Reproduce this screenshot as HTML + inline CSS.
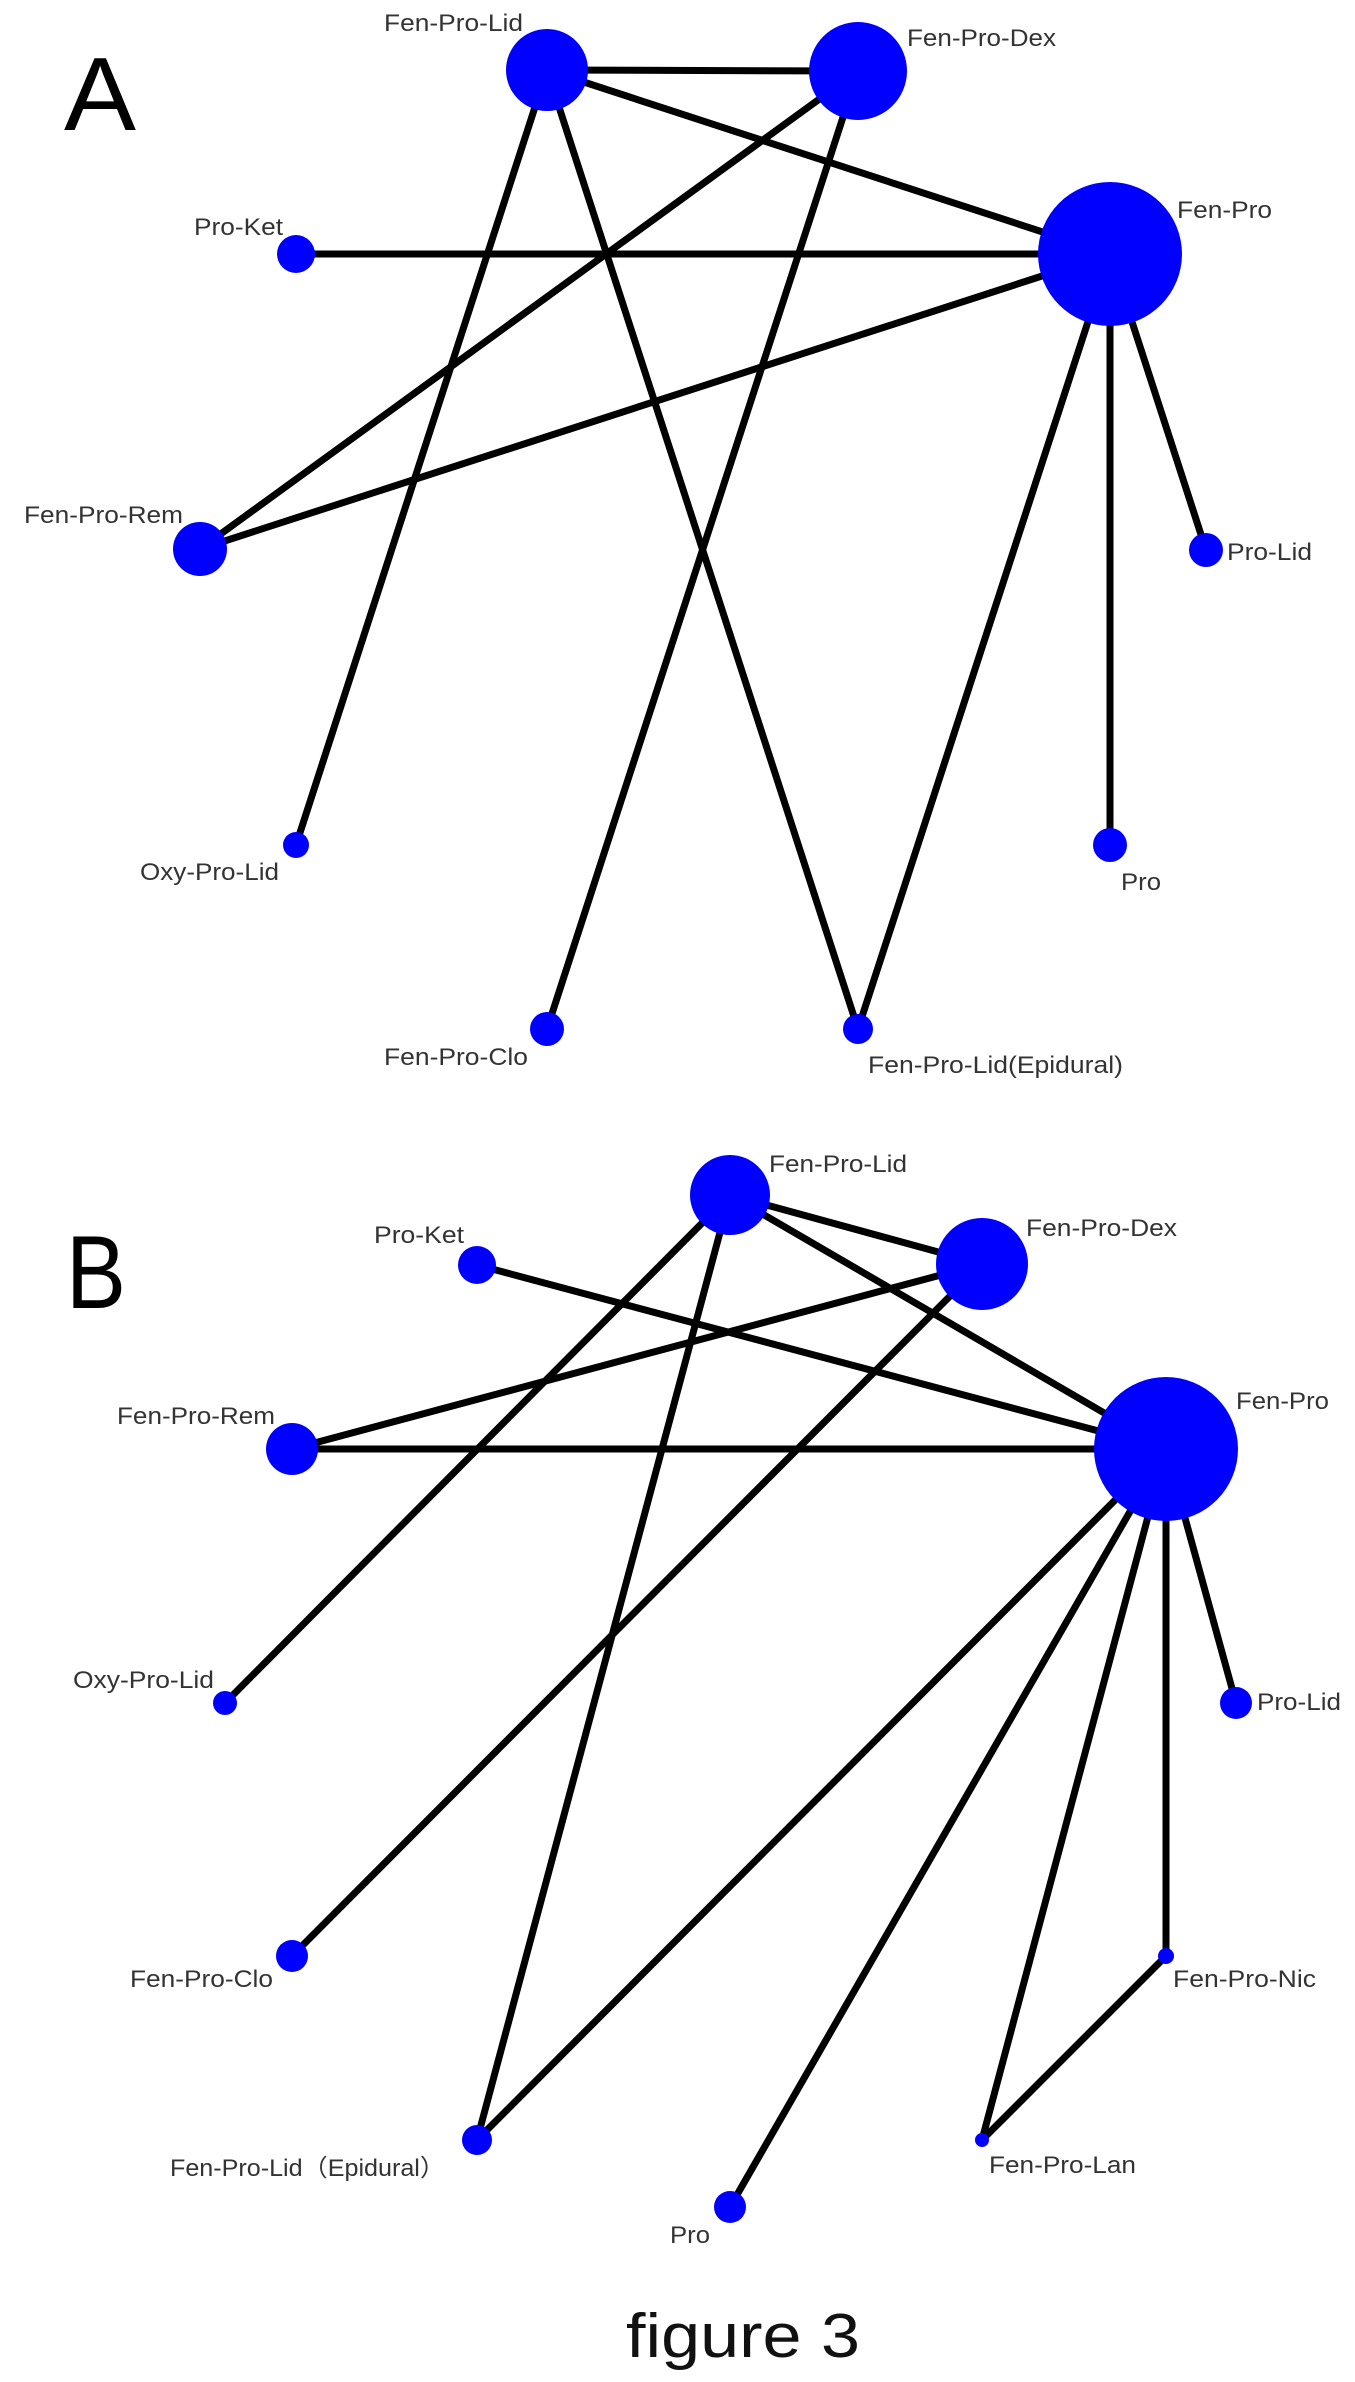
<!DOCTYPE html>
<html><head><meta charset="utf-8"><style>
html,body{margin:0;padding:0;background:#fff;}
svg{display:block;}
text{font-family:"Liberation Sans",sans-serif;fill:#333;}
</style></head><body>
<svg width="1355" height="2382" viewBox="0 0 1355 2382" xmlns="http://www.w3.org/2000/svg">
<rect width="1355" height="2382" fill="#fff"/>
<text x="64" y="130" font-size="104" style="fill:#000" textLength="72" lengthAdjust="spacingAndGlyphs">A</text>
<g stroke="#000" stroke-width="7" fill="none">
<line x1="547" y1="70" x2="858" y2="71"/>
<line x1="547" y1="70" x2="1110" y2="254"/>
<line x1="547" y1="70" x2="296" y2="845"/>
<line x1="547" y1="70" x2="858" y2="1029"/>
<line x1="858" y1="71" x2="200" y2="549"/>
<line x1="858" y1="71" x2="547" y2="1029"/>
<line x1="296" y1="254" x2="1110" y2="254"/>
<line x1="200" y1="549" x2="1110" y2="254"/>
<line x1="1110" y1="254" x2="858" y2="1029"/>
<line x1="1110" y1="254" x2="1110" y2="845"/>
<line x1="1110" y1="254" x2="1206" y2="550"/>
</g>
<g fill="#0000ff">
<circle cx="547" cy="70" r="41"/>
<circle cx="858" cy="71" r="49"/>
<circle cx="1110" cy="254" r="72"/>
<circle cx="296" cy="254" r="19"/>
<circle cx="200" cy="549" r="27"/>
<circle cx="1206" cy="550" r="17"/>
<circle cx="296" cy="845" r="13"/>
<circle cx="1110" cy="845" r="17"/>
<circle cx="547" cy="1029" r="17"/>
<circle cx="858" cy="1029" r="15"/>
</g>
<g font-size="24" lengthAdjust="spacingAndGlyphs">
<text x="384" y="31" textLength="139" lengthAdjust="spacingAndGlyphs">Fen-Pro-Lid</text>
<text x="907" y="46" textLength="149" lengthAdjust="spacingAndGlyphs">Fen-Pro-Dex</text>
<text x="1177" y="218" textLength="95" lengthAdjust="spacingAndGlyphs">Fen-Pro</text>
<text x="194" y="235" textLength="89" lengthAdjust="spacingAndGlyphs">Pro-Ket</text>
<text x="24" y="523" textLength="159" lengthAdjust="spacingAndGlyphs">Fen-Pro-Rem</text>
<text x="1227" y="560" textLength="85" lengthAdjust="spacingAndGlyphs">Pro-Lid</text>
<text x="140" y="880" textLength="139" lengthAdjust="spacingAndGlyphs">Oxy-Pro-Lid</text>
<text x="1121" y="890" textLength="40" lengthAdjust="spacingAndGlyphs">Pro</text>
<text x="384" y="1065" textLength="144" lengthAdjust="spacingAndGlyphs">Fen-Pro-Clo</text>
<text x="868" y="1073" textLength="255" lengthAdjust="spacingAndGlyphs">Fen-Pro-Lid(Epidural)</text>
</g>

<text x="66" y="1308" font-size="104" style="fill:#000" textLength="60" lengthAdjust="spacingAndGlyphs">B</text>
<g stroke="#000" stroke-width="7" fill="none">
<line x1="730" y1="1195" x2="982" y2="1264"/>
<line x1="730" y1="1195" x2="1166" y2="1449"/>
<line x1="730" y1="1195" x2="225" y2="1703"/>
<line x1="730" y1="1195" x2="477" y2="2140"/>
<line x1="477" y1="1265" x2="1166" y2="1449"/>
<line x1="982" y1="1264" x2="292" y2="1449"/>
<line x1="982" y1="1264" x2="292" y2="1956"/>
<line x1="292" y1="1449" x2="1166" y2="1449"/>
<line x1="1166" y1="1449" x2="477" y2="2140"/>
<line x1="1166" y1="1449" x2="730" y2="2207"/>
<line x1="1166" y1="1449" x2="982" y2="2140"/>
<line x1="1166" y1="1449" x2="1166" y2="1956"/>
<line x1="1166" y1="1449" x2="1236" y2="1703"/>
<line x1="1166" y1="1956" x2="982" y2="2140"/>
</g>
<g fill="#0000ff">
<circle cx="730" cy="1195" r="40"/>
<circle cx="982" cy="1264" r="46"/>
<circle cx="477" cy="1265" r="19"/>
<circle cx="292" cy="1449" r="26"/>
<circle cx="1166" cy="1449" r="72"/>
<circle cx="225" cy="1703" r="12"/>
<circle cx="1236" cy="1703" r="16"/>
<circle cx="292" cy="1956" r="16"/>
<circle cx="1166" cy="1956" r="8"/>
<circle cx="477" cy="2140" r="15"/>
<circle cx="982" cy="2140" r="7"/>
<circle cx="730" cy="2207" r="16"/>
</g>
<g font-size="24">
<text x="769" y="1172" textLength="138" lengthAdjust="spacingAndGlyphs">Fen-Pro-Lid</text>
<text x="1026" y="1236" textLength="151" lengthAdjust="spacingAndGlyphs">Fen-Pro-Dex</text>
<text x="374" y="1243" textLength="90" lengthAdjust="spacingAndGlyphs">Pro-Ket</text>
<text x="117" y="1424" textLength="158" lengthAdjust="spacingAndGlyphs">Fen-Pro-Rem</text>
<text x="1236" y="1409" textLength="93" lengthAdjust="spacingAndGlyphs">Fen-Pro</text>
<text x="73" y="1688" textLength="141" lengthAdjust="spacingAndGlyphs">Oxy-Pro-Lid</text>
<text x="1257" y="1710" textLength="84" lengthAdjust="spacingAndGlyphs">Pro-Lid</text>
<text x="130" y="1987" textLength="143" lengthAdjust="spacingAndGlyphs">Fen-Pro-Clo</text>
<text x="1173" y="1987" textLength="143" lengthAdjust="spacingAndGlyphs">Fen-Pro-Nic</text>
<text x="170" y="2176" textLength="275" lengthAdjust="spacingAndGlyphs">Fen-Pro-Lid（Epidural）</text>
<text x="989" y="2173" textLength="147" lengthAdjust="spacingAndGlyphs">Fen-Pro-Lan</text>
<text x="670" y="2243" textLength="40" lengthAdjust="spacingAndGlyphs">Pro</text>
</g>
<text x="626" y="2357" font-size="62" style="fill:#111" textLength="234" lengthAdjust="spacingAndGlyphs">figure 3</text>
</svg>
</body></html>
